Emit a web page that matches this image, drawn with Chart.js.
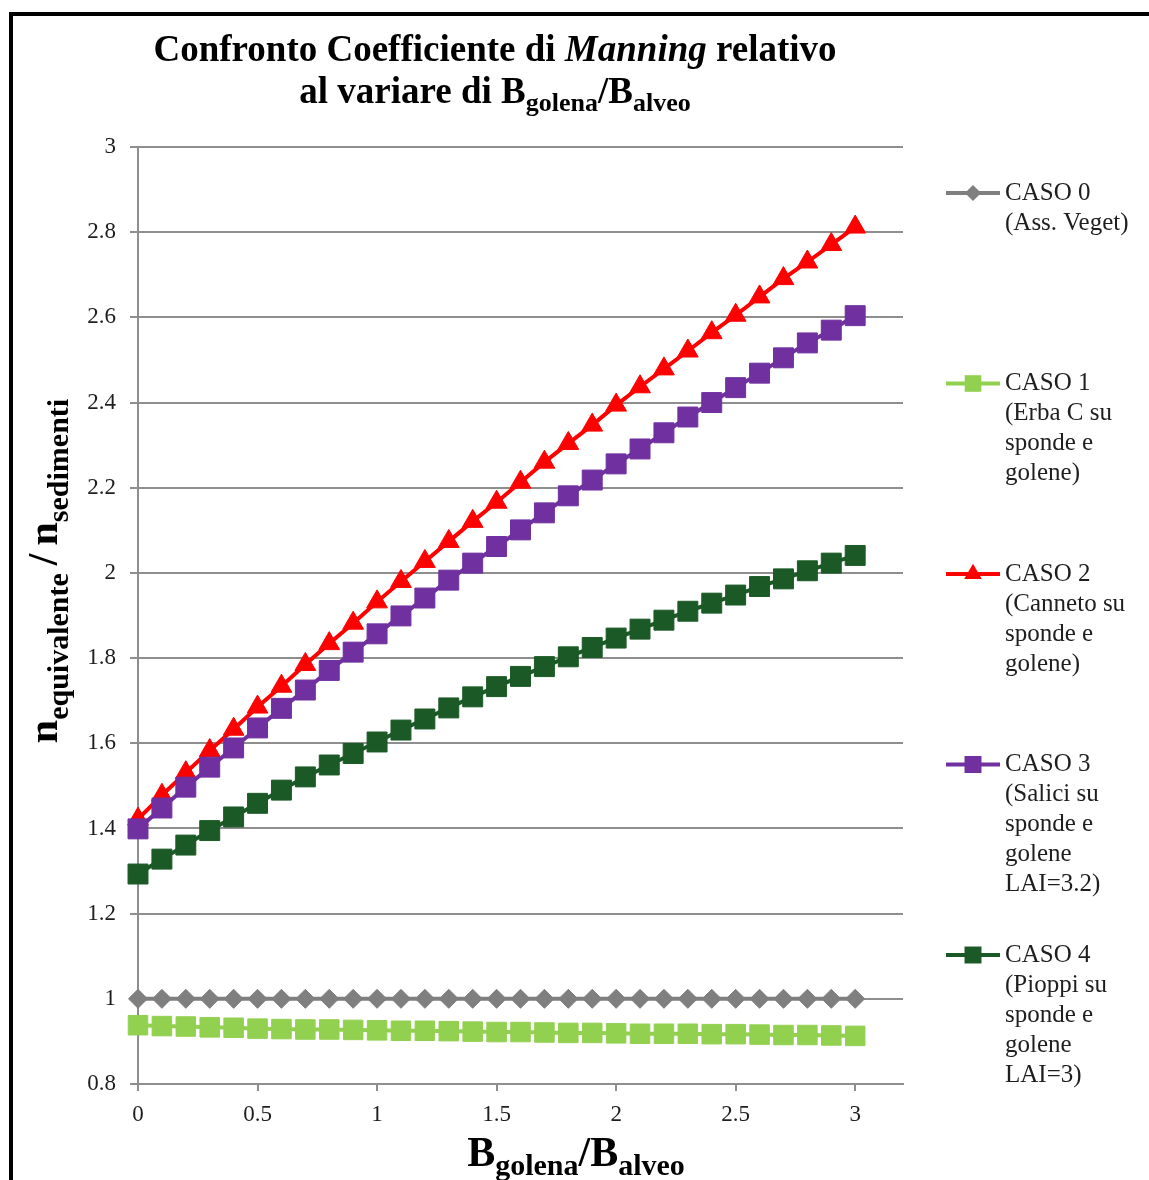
<!DOCTYPE html>
<html>
<head>
<meta charset="utf-8">
<script src="https://cdn.jsdelivr.net/npm/chart.js@4.4.1/dist/chart.umd.min.js"></script>
<style>
  html, body { margin: 0; padding: 0; background: #ffffff; }
  #wrap { position: relative; width: 1149px; height: 1180px; }
</style>
</head>
<body>
<div id="wrap"><canvas id="chart" width="1149" height="1180"></canvas></div>
<script>
// Rapporto B_golena / B_alveo
const ratios = [0, 0.1, 0.2, 0.3, 0.4, 0.5, 0.6, 0.7, 0.8, 0.9, 1, 1.1, 1.2, 1.3, 1.4, 1.5,
                1.6, 1.7, 1.8, 1.9, 2, 2.1, 2.2, 2.3, 2.4, 2.5, 2.6, 2.7, 2.8, 2.9, 3];

// n_equivalente / n_sedimenti per ciascun caso
const caso0 = [1, 1, 1, 1, 1, 1, 1, 1, 1, 1, 1, 1, 1, 1, 1, 1,
               1, 1, 1, 1, 1, 1, 1, 1, 1, 1, 1, 1, 1, 1, 1];
const caso1 = [0.938, 0.936, 0.935, 0.933, 0.932, 0.930, 0.929, 0.928, 0.928, 0.927, 0.926,
               0.925, 0.925, 0.924, 0.923, 0.922, 0.922, 0.921, 0.920, 0.920, 0.919,
               0.918, 0.918, 0.918, 0.917, 0.917, 0.916, 0.915, 0.915, 0.914, 0.913];
const caso2 = [1.422, 1.478, 1.531, 1.583, 1.633, 1.685, 1.734, 1.785, 1.834, 1.882, 1.932,
               1.980, 2.027, 2.074, 2.121, 2.166, 2.213, 2.260, 2.304, 2.347, 2.394,
               2.437, 2.479, 2.521, 2.564, 2.605, 2.648, 2.691, 2.730, 2.771, 2.812];
const caso3 = [1.399, 1.448, 1.497, 1.544, 1.589, 1.636, 1.682, 1.725, 1.771, 1.814, 1.857,
               1.899, 1.941, 1.983, 2.023, 2.062, 2.101, 2.141, 2.181, 2.218, 2.256,
               2.291, 2.329, 2.366, 2.400, 2.435, 2.469, 2.505, 2.540, 2.570, 2.604];
const caso4 = [1.293, 1.328, 1.361, 1.395, 1.427, 1.459, 1.490, 1.521, 1.549, 1.576, 1.603,
               1.631, 1.657, 1.683, 1.709, 1.733, 1.757, 1.780, 1.803, 1.825, 1.847,
               1.868, 1.889, 1.910, 1.929, 1.948, 1.968, 1.986, 2.005, 2.023, 2.041];

const seriesLabels = [
  ['CASO 0', '(Ass. Veget)'],
  ['CASO 1', '(Erba C su', 'sponde e', 'golene)'],
  ['CASO 2', '(Canneto su', 'sponde e', 'golene)'],
  ['CASO 3', '(Salici su', 'sponde e', 'golene', 'LAI=3.2)'],
  ['CASO 4', '(Pioppi su', 'sponde e', 'golene', 'LAI=3)']
];

const xTickValues = [0, 0.5, 1, 1.5, 2, 2.5, 3];
const yTickValues = [0.8, 1, 1.2, 1.4, 1.6, 1.8, 2, 2.2, 2.4, 2.6, 2.8, 3];

const SERIF = '"Liberation Serif", "Times New Roman", serif';
const GRID = '#8e8e8e';
const TEXT = '#1e1e1e';

const styles = [
  { color: '#7f7f7f', pointStyle: 'rectRot',  radius: 9.5 },
  { color: '#92d050', pointStyle: 'rect',     radius: 13.8 },
  { color: '#ff0000', pointStyle: 'triangle', radius: 12 },
  { color: '#7030a0', pointStyle: 'rect',     radius: 14.1 },
  { color: '#1b5a26', pointStyle: 'rect',     radius: 14.1 }
];

const seriesValues = [caso0, caso1, caso2, caso3, caso4];

const datasets = seriesValues.map((vals, i) => ({
  label: seriesLabels[i].join(' '),
  data: ratios.map((x, k) => ({ x: x, y: vals[k] })),
  borderColor: styles[i].color,
  backgroundColor: styles[i].color,
  pointBackgroundColor: styles[i].color,
  pointBorderColor: styles[i].color,
  pointBorderWidth: 1,
  pointStyle: styles[i].pointStyle,
  pointRadius: styles[i].radius,
  borderWidth: 4,
  tension: 0,
  clip: false,
  order: seriesValues.length - 1 - i
}));

// draws a sequence of text runs (mixed sizes / subscripts) centred on cx
function drawRuns(ctx, runs, cx, baseY) {
  let total = 0;
  runs.forEach(r => { ctx.font = r.font; r.w = ctx.measureText(r.text).width + (r.gap || 0); total += r.w; });
  let x = cx - total / 2;
  ctx.textAlign = 'left';
  ctx.textBaseline = 'alphabetic';
  runs.forEach(r => { ctx.font = r.font; ctx.fillText(r.text, x, baseY + (r.dy || 0)); x += r.w; });
}

const decor = {
  id: 'decor',
  beforeDraw(chart) {
    const ctx = chart.ctx;
    ctx.save();
    ctx.fillStyle = '#ffffff';
    ctx.fillRect(0, 0, chart.width, chart.height);
    // outer frame
    ctx.strokeStyle = '#000000';
    ctx.lineWidth = 4;
    ctx.beginPath();
    ctx.moveTo(11, chart.height);
    ctx.lineTo(11, 14);
    ctx.lineTo(chart.width, 14);
    ctx.stroke();
    ctx.restore();
  },
  afterDraw(chart) {
    const ctx = chart.ctx;
    const area = chart.chartArea;
    ctx.save();
    ctx.fillStyle = '#000000';

    // title
    const tB = 'bold 37px ' + SERIF;
    const tBI = 'italic bold 37px ' + SERIF;
    const tS = 'bold 26px ' + SERIF;
    drawRuns(ctx, [
      { text: 'Confronto Coefficiente di ', font: tB },
      { text: 'Manning', font: tBI },
      { text: ' relativo', font: tB }
    ], 495, 61);
    drawRuns(ctx, [
      { text: 'al variare di B', font: tB },
      { text: 'golena', font: tS, dy: 8 },
      { text: '/B', font: tB },
      { text: 'alveo', font: tS, dy: 8 }
    ], 495, 103);

    // x axis title
    const aB = 'bold 42px ' + SERIF;
    const aS = 'bold 30px ' + SERIF;
    drawRuns(ctx, [
      { text: 'B', font: aB },
      { text: 'golena', font: aS, dy: 9 },
      { text: '/B', font: aB },
      { text: 'alveo', font: aS, dy: 9 }
    ], 576, 1166);

    // y axis title
    ctx.save();
    ctx.translate(55, 571);
    ctx.rotate(-Math.PI / 2);
    drawRuns(ctx, [
      { text: 'n', font: aB },
      { text: 'equivalente', font: aS, dy: 11, gap: 8 },
      { text: '/', font: aB, gap: 8 },
      { text: 'n', font: aB },
      { text: 'sedimenti', font: aS, dy: 11 }
    ], 0, 2);
    ctx.restore();

    // legend
    const lineX0 = area.right + 43;
    const lineX1 = area.right + 97;
    const textX = area.right + 102;
    chart.data.datasets.forEach((ds, i) => {
      const y0 = area.top + 46 + i * 190.5;
      ctx.strokeStyle = styles[i].color;
      ctx.lineWidth = 4;
      ctx.beginPath();
      ctx.moveTo(lineX0, y0);
      ctx.lineTo(lineX1, y0);
      ctx.stroke();
      ctx.fillStyle = styles[i].color;
      Chart.helpers.drawPoint(ctx, {
        pointStyle: styles[i].pointStyle,
        radius: styles[i].radius * 0.85,
        rotation: 0,
        borderWidth: 0
      }, (lineX0 + lineX1) / 2, y0);
      ctx.fillStyle = TEXT;
      ctx.font = '25px ' + SERIF;
      ctx.textAlign = 'left';
      ctx.textBaseline = 'middle';
      seriesLabels[i].forEach((line, k) => ctx.fillText(line, textX, y0 + k * 30));
    });
    ctx.restore();
  }
};

new Chart(document.getElementById('chart'), {
  type: 'line',
  data: { datasets: datasets },
  plugins: [decor],
  options: {
    responsive: false,
    animation: false,
    devicePixelRatio: 1,
    layout: { padding: { left: 0, top: 147, right: 246, bottom: 0 } },
    plugins: {
      legend: { display: false },
      title: { display: false },
      tooltip: { enabled: false }
    },
    scales: {
      x: {
        type: 'linear',
        min: 0,
        max: 3.2,
        afterBuildTicks: s => { s.ticks = xTickValues.map(v => ({ value: v })); },
        afterFit: s => { s.height = 96; },
        grid: { drawOnChartArea: false, drawTicks: true, tickLength: 7, color: GRID, lineWidth: 2 },
        border: { display: true, color: GRID, width: 2 },
        ticks: {
          padding: 10,
          color: TEXT,
          font: { family: SERIF, size: 23 },
          callback: v => String(v),
          maxRotation: 0,
          autoSkip: false
        }
      },
      y: {
        type: 'linear',
        min: 0.8,
        max: 3,
        afterBuildTicks: s => { s.ticks = yTickValues.map(v => ({ value: v })); },
        afterFit: s => { s.width = 138; },
        grid: { drawTicks: true, tickLength: 8, color: GRID, lineWidth: 2 },
        border: { display: true, color: GRID, width: 2 },
        ticks: {
          padding: 14,
          color: TEXT,
          font: { family: SERIF, size: 23 },
          callback: v => String(v),
          autoSkip: false
        }
      }
    }
  }
});
</script>
</body>
</html>
